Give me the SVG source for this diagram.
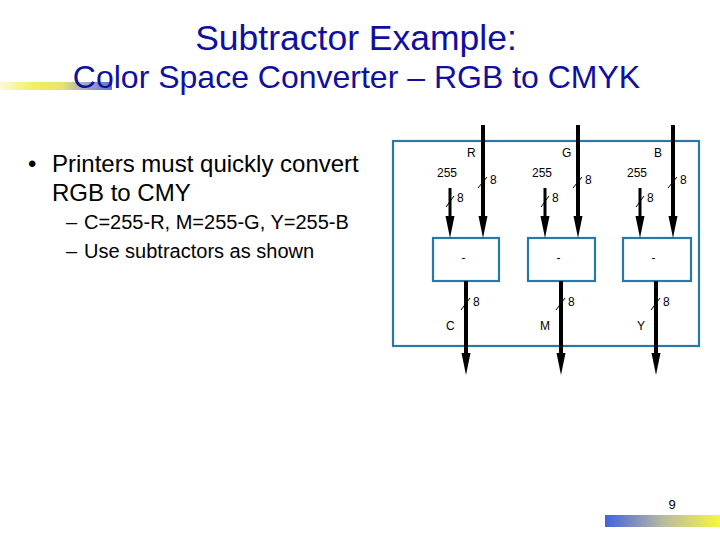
<svg xmlns="http://www.w3.org/2000/svg" width="720" height="540" viewBox="0 0 720 540">
<defs>
  <linearGradient id="gTop" x1="0" y1="0" x2="1" y2="0">
    <stop offset="0" stop-color="#FAFAD8"/>
    <stop offset="0.3" stop-color="#F2F060"/>
    <stop offset="0.55" stop-color="#E6E470"/>
    <stop offset="0.75" stop-color="#A8AEC0"/>
    <stop offset="1" stop-color="#6070D0"/>
  </linearGradient>
  <linearGradient id="gBot" x1="0" y1="0" x2="1" y2="0">
    <stop offset="0" stop-color="#4262E0"/>
    <stop offset="0.5" stop-color="#B8BAA0"/>
    <stop offset="1" stop-color="#F8F640"/>
  </linearGradient>
  <marker id="ah" markerUnits="userSpaceOnUse" viewBox="0 -5 22 10" markerWidth="22" markerHeight="10" refX="0" refY="0" orient="auto">
    <path d="M0,-4.5 L22,0 L0,4.5 z" fill="#000"/>
  </marker>
  <style>
    .title{font-family:"Liberation Sans",Arial,sans-serif;fill:#1010A0;text-anchor:middle}
    .body{font-family:"Liberation Sans",Arial,sans-serif;fill:#000}
    .lbl{font-family:"Liberation Sans",Arial,sans-serif;font-size:12px;fill:#000}
    .frame{fill:none;stroke:#2878A8;stroke-width:2.2}
    .box{fill:#fff;stroke:#2878A8;stroke-width:2.2}
    .bus{stroke:#000;stroke-width:4;fill:none}
    .bus3{stroke:#000;stroke-width:3;fill:none}
    .slash{stroke:#000;stroke-width:1;fill:none}
  </style>
</defs>
<rect width="720" height="540" fill="#fff"/>

<rect x="0" y="82" width="112" height="8" fill="url(#gTop)"/>
<rect x="605" y="515" width="115" height="12" fill="url(#gBot)"/>

<text class="title" x="356" y="50" font-size="35.5">Subtractor Example:</text>
<text class="title" x="356.5" y="88" font-size="32">Color Space Converter – RGB to CMYK</text>

<text class="body" x="28" y="172" font-size="24">•</text>
<text class="body" x="52" y="172" font-size="24">Printers must quickly convert</text>
<text class="body" x="52" y="201" font-size="24">RGB to CMY</text>
<text class="body" x="66" y="229" font-size="20">–</text>
<text class="body" x="84" y="229" font-size="20">C=255-R, M=255-G, Y=255-B</text>
<text class="body" x="66" y="258" font-size="20">–</text>
<text class="body" x="84" y="258" font-size="20">Use subtractors as shown</text>

<text class="body" x="672" y="509" font-size="13" text-anchor="middle">9</text>

<rect id="frame" class="frame" x="393" y="141" width="306" height="205"/>

<g id="sub1"><rect class="box" x="433" y="238" width="66" height="43"/><text class="lbl" x="463.5" y="262" text-anchor="middle">-</text></g>
<g id="sub2"><rect class="box" x="528" y="238" width="67" height="43"/><text class="lbl" x="558.5" y="262" text-anchor="middle">-</text></g>
<g id="sub3"><rect class="box" x="623" y="238" width="68" height="43"/><text class="lbl" x="653.5" y="262" text-anchor="middle">-</text></g>

<g id="connectors">
  <line class="bus" x1="483" y1="125" x2="483" y2="216" marker-end="url(#ah)"/>
  <line class="bus" x1="578" y1="125" x2="578" y2="216" marker-end="url(#ah)"/>
  <line class="bus" x1="673" y1="125" x2="673" y2="216" marker-end="url(#ah)"/>
  <line class="bus3" x1="450" y1="188" x2="450" y2="216" marker-end="url(#ah)"/>
  <line class="bus3" x1="545" y1="188" x2="545" y2="216" marker-end="url(#ah)"/>
  <line class="bus3" x1="640" y1="188" x2="640" y2="216" marker-end="url(#ah)"/>
  <line class="bus" x1="466" y1="281" x2="466" y2="353" marker-end="url(#ah)"/>
  <line class="bus" x1="561" y1="281" x2="561" y2="353" marker-end="url(#ah)"/>
  <line class="bus" x1="656" y1="281" x2="656" y2="353" marker-end="url(#ah)"/>
  <line class="slash" x1="478" y1="188" x2="487" y2="177"/>
  <line class="slash" x1="573" y1="188" x2="582" y2="177"/>
  <line class="slash" x1="668" y1="188" x2="677" y2="177"/>
  <line class="slash" x1="446" y1="207" x2="454" y2="196"/>
  <line class="slash" x1="541" y1="207" x2="549" y2="196"/>
  <line class="slash" x1="636" y1="207" x2="644" y2="196"/>
  <line class="slash" x1="461" y1="310" x2="470" y2="298"/>
  <line class="slash" x1="556" y1="310" x2="565" y2="298"/>
  <line class="slash" x1="651" y1="310" x2="660" y2="298"/>
</g>

<g id="labels">
  <text class="lbl" x="467" y="157">R</text>
  <text class="lbl" x="562" y="157">G</text>
  <text class="lbl" x="654" y="157">B</text>
  <text class="lbl" x="437" y="177">255</text>
  <text class="lbl" x="532" y="177">255</text>
  <text class="lbl" x="627" y="177">255</text>
  <text class="lbl" x="490" y="184">8</text>
  <text class="lbl" x="585" y="184">8</text>
  <text class="lbl" x="680" y="184">8</text>
  <text class="lbl" x="457" y="202">8</text>
  <text class="lbl" x="552" y="202">8</text>
  <text class="lbl" x="647" y="202">8</text>
  <text class="lbl" x="473" y="306">8</text>
  <text class="lbl" x="568" y="306">8</text>
  <text class="lbl" x="663" y="306">8</text>
  <text class="lbl" x="446" y="330">C</text>
  <text class="lbl" x="540" y="330">M</text>
  <text class="lbl" x="637" y="330">Y</text>
</g>
</svg>
